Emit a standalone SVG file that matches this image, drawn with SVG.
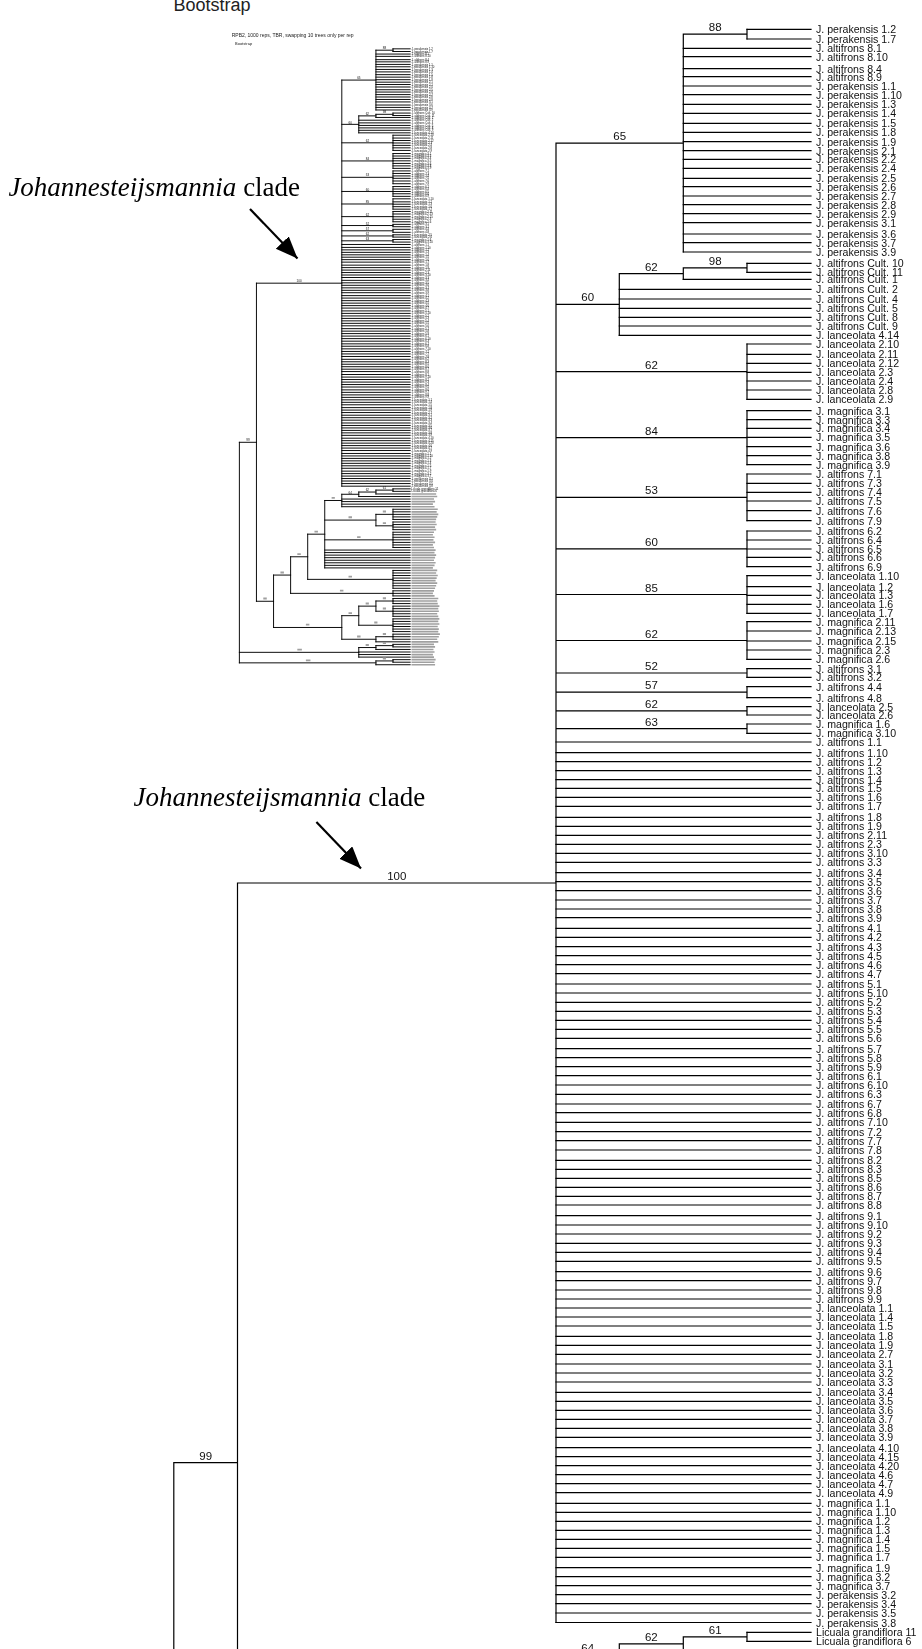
<svg xmlns="http://www.w3.org/2000/svg" width="922" height="1649" viewBox="0 0 922 1649">
<style>
.br{fill:none;stroke:#000;stroke-linecap:square}
.lf{font-family:"Liberation Sans",Arial,sans-serif;font-size:10.6px;fill:#111}
.bs{font-family:"Liberation Sans",Arial,sans-serif;font-size:11.5px;fill:#111;text-anchor:middle}
.ph{fill:none;stroke:#a0a0a0}
.cl{font-family:"Liberation Serif","Times New Roman",serif;font-size:27px;fill:#000}
.arr{stroke:#000;stroke-width:2.2;fill:none}
.hd{font-family:"Liberation Sans",Arial,sans-serif;fill:#222}
</style>
<defs>
<filter id="gray" x="-5%" y="-5%" width="110%" height="110%"><feColorMatrix type="saturate" values="0"/></filter>
<marker id="ah" markerUnits="userSpaceOnUse" markerWidth="24" markerHeight="20" refX="22" refY="9" orient="auto">
<path d="M0,0 L22,9 L0,18 z" fill="#000"/>
</marker>
<g id="treeMain">
<g id="connectors">
<path class="br" d="M747 29.3H811M747 39H811M747 263.3H811M747 272.3H811M747 344H811M747 354.3H811M747 363.3H811M747 372.3H811M747 381H811M747 390H811M747 399.3H811M747 410.7H811M747 419.7H811M747 428.3H811M747 437.3H811M747 446.7H811M747 455.7H811M747 464.7H811M747 474H811M747 483.3H811M747 492.3H811M747 501H811M747 510.7H811M747 520.7H811M747 531H811M747 540H811M747 549H811M747 557.3H811M747 566.7H811M747 575.7H811M747 586.7H811M747 595.3H811M747 604.3H811M747 613.3H811M747 621.7H811M747 631H811M747 641H811M747 650H811M747 659.3H811M747 668.7H811M747 677.3H811M747 686.7H811M747 697.7H811M747 706.7H811M747 715H811M747 724H811M747 733.3H811M747 1632.3H811M747 1641.3H811"/>
<path class="br" d="M683.3 48.3H811M683.3 56.7H811M683.3 68.7H811M683.3 76.7H811M683.3 86H811M683.3 94.7H811M683.3 104.3H811M683.3 113.3H811M683.3 123.3H811M683.3 132.3H811M683.3 141.7H811M683.3 150.7H811M683.3 159.3H811M683.3 168.3H811M683.3 178.3H811M683.3 186.7H811M683.3 196H811M683.3 204.7H811M683.3 213.7H811M683.3 222.7H811M683.3 234H811M683.3 242.7H811M683.3 252H811M683.3 279.3H811M683.3 1650.9H811"/>
<path class="br" d="M619.3 289.3H811M619.3 299H811M619.3 308.3H811M619.3 317.3H811M619.3 326H811M619.3 335.3H811M619.3 1660.2H811"/>
<path class="br" d="M556 742H811M556 752.7H811M556 761.7H811M556 770.7H811M556 779.7H811M556 788.3H811M556 797.3H811M556 806.3H811M556 817.3H811M556 826.3H811M556 835.3H811M556 844.3H811M556 853.3H811M556 862.3H811M556 872.7H811M556 881.7H811M556 890.7H811M556 900H811M556 909H811M556 917.7H811M556 928.3H811M556 937.3H811M556 946.7H811M556 955.7H811M556 964.7H811M556 973.7H811M556 984H811M556 993H811M556 1002.3H811M556 1011.3H811M556 1020.3H811M556 1029.3H811M556 1038.3H811M556 1048.7H811M556 1057.7H811M556 1066.7H811M556 1075.7H811M556 1085H811M556 1094.3H811M556 1104H811M556 1112.7H811M556 1122.3H811M556 1131.7H811M556 1140.7H811M556 1150H811M556 1160.3H811M556 1169.3H811M556 1178.3H811M556 1187.3H811M556 1196.3H811M556 1205H811M556 1215.7H811M556 1225H811M556 1234H811M556 1243.3H811M556 1252.3H811M556 1261.3H811M556 1271.7H811M556 1280.7H811M556 1290H811M556 1299H811M556 1308H811M556 1317H811M556 1326H811M556 1336.3H811M556 1345.3H811M556 1354.3H811M556 1364H811M556 1373H811M556 1382H811M556 1392.3H811M556 1401.3H811M556 1410.3H811M556 1419.3H811M556 1428.3H811M556 1437.3H811M556 1447.7H811M556 1456.7H811M556 1465.7H811M556 1474.7H811M556 1483.7H811M556 1492.7H811M556 1503.3H811M556 1512.3H811M556 1521.3H811M556 1530.3H811M556 1539.3H811M556 1548.3H811M556 1557.3H811M556 1567.7H811M556 1576.7H811M556 1585.7H811M556 1594.7H811M556 1603.7H811M556 1613H811M556 1622.5H811"/>
<path class="br" d="M747 29.3V39M683.3 34.2H747M683.3 34.2V252M556 143.1H683.3M747 263.3V272.3M683.3 267.8H747M683.3 267.8V279.3M619.3 273.55H683.3M619.3 273.55V335.3M556 304.4H619.3M747 344V399.3M556 371.65H747M747 410.7V464.7M556 437.7H747M747 474V520.7M556 497.35H747M747 531V566.7M556 548.85H747M747 575.7V613.3M556 594.5H747M747 621.7V659.3M556 640.5H747M747 668.7V677.3M556 673H747M747 686.7V697.7M556 692.2H747M747 706.7V715M556 710.85H747M747 724V733.3M556 728.65H747M556 143.1V1622.5M237.5 883H556M237.5 883V2041.8M173.8 1462.7H237.5M173.8 1462.7V2266.1M747 1632.3V1641.3M683.3 1636.8H747M683.3 1636.8V1650.9M619.3 1643.85V1660.2M619.3 1643.85H683.3M556 1652H619.3"/>
</g>
<g id="support">
<text class="bs" x="715.2" y="31.2">88</text>
<text class="bs" x="619.7" y="140.1">65</text>
<text class="bs" x="715.2" y="264.8">98</text>
<text class="bs" x="651.3" y="270.5">62</text>
<text class="bs" x="587.7" y="301.4">60</text>
<text class="bs" x="651.5" y="368.6">62</text>
<text class="bs" x="651.5" y="434.7">84</text>
<text class="bs" x="651.5" y="494.3">53</text>
<text class="bs" x="651.5" y="545.8">60</text>
<text class="bs" x="651.5" y="591.5">85</text>
<text class="bs" x="651.5" y="637.5">62</text>
<text class="bs" x="651.5" y="670">52</text>
<text class="bs" x="651.5" y="689.2">57</text>
<text class="bs" x="651.5" y="707.8">62</text>
<text class="bs" x="651.5" y="725.6">63</text>
<text class="bs" x="396.8" y="880">100</text>
<text class="bs" x="205.7" y="1459.7">99</text>
<text class="bs" x="715.2" y="1633.8">61</text>
<text class="bs" x="651.3" y="1640.8">62</text>
<text class="bs" x="587.7" y="1651.8">64</text>
</g>
<g id="taxa" class="lf" transform="translate(816 4)">
<g id="t1"><text y="29.3">J. perakensis 1.2</text></g>
<g id="t2"><text y="39">J. perakensis 1.7</text></g>
<g id="t3"><text y="48.3">J. altifrons 8.1</text></g>
<g id="t4"><text y="56.7">J. altifrons 8.10</text></g>
<g id="t5"><text y="68.7">J. altifrons 8.4</text></g>
<g id="t6"><text y="76.7">J. altifrons 8.9</text></g>
<g id="t7"><text y="86">J. perakensis 1.1</text></g>
<g id="t8"><text y="94.7">J. perakensis 1.10</text></g>
<g id="t9"><text y="104.3">J. perakensis 1.3</text></g>
<g id="t10"><text y="113.3">J. perakensis 1.4</text></g>
<g id="t11"><text y="123.3">J. perakensis 1.5</text></g>
<g id="t12"><text y="132.3">J. perakensis 1.8</text></g>
<g id="t13"><text y="141.7">J. perakensis 1.9</text></g>
<g id="t14"><text y="150.7">J. perakensis 2.1</text></g>
<g id="t15"><text y="159.3">J. perakensis 2.2</text></g>
<g id="t16"><text y="168.3">J. perakensis 2.4</text></g>
<g id="t17"><text y="178.3">J. perakensis 2.5</text></g>
<g id="t18"><text y="186.7">J. perakensis 2.6</text></g>
<g id="t19"><text y="196">J. perakensis 2.7</text></g>
<g id="t20"><text y="204.7">J. perakensis 2.8</text></g>
<g id="t21"><text y="213.7">J. perakensis 2.9</text></g>
<g id="t22"><text y="222.7">J. perakensis 3.1</text></g>
<g id="t23"><text y="234">J. perakensis 3.6</text></g>
<g id="t24"><text y="242.7">J. perakensis 3.7</text></g>
<g id="t25"><text y="252">J. perakensis 3.9</text></g>
<g id="t26"><text y="263.3">J. altifrons Cult. 10</text></g>
<g id="t27"><text y="272.3">J. altifrons Cult. 11</text></g>
<g id="t28"><text y="279.3">J. altifrons Cult. 1</text></g>
<g id="t29"><text y="289.3">J. altifrons Cult. 2</text></g>
<g id="t30"><text y="299">J. altifrons Cult. 4</text></g>
<g id="t31"><text y="308.3">J. altifrons Cult. 5</text></g>
<g id="t32"><text y="317.3">J. altifrons Cult. 8</text></g>
<g id="t33"><text y="326">J. altifrons Cult. 9</text></g>
<g id="t34"><text y="335.3">J. lanceolata 4.14</text></g>
<g id="t35"><text y="344">J. lanceolata 2.10</text></g>
<g id="t36"><text y="354.3">J. lanceolata 2.11</text></g>
<g id="t37"><text y="363.3">J. lanceolata 2.12</text></g>
<g id="t38"><text y="372.3">J. lanceolata 2.3</text></g>
<g id="t39"><text y="381">J. lanceolata 2.4</text></g>
<g id="t40"><text y="390">J. lanceolata 2.8</text></g>
<g id="t41"><text y="399.3">J. lanceolata 2.9</text></g>
<g id="t42"><text y="410.7">J. magnifica 3.1</text></g>
<g id="t43"><text y="419.7">J. magnifica 3.3</text></g>
<g id="t44"><text y="428.3">J. magnifica 3.4</text></g>
<g id="t45"><text y="437.3">J. magnifica 3.5</text></g>
<g id="t46"><text y="446.7">J. magnifica 3.6</text></g>
<g id="t47"><text y="455.7">J. magnifica 3.8</text></g>
<g id="t48"><text y="464.7">J. magnifica 3.9</text></g>
<g id="t49"><text y="474">J. altifrons 7.1</text></g>
<g id="t50"><text y="483.3">J. altifrons 7.3</text></g>
<g id="t51"><text y="492.3">J. altifrons 7.4</text></g>
<g id="t52"><text y="501">J. altifrons 7.5</text></g>
<g id="t53"><text y="510.7">J. altifrons 7.6</text></g>
<g id="t54"><text y="520.7">J. altifrons 7.9</text></g>
<g id="t55"><text y="531">J. altifrons 6.2</text></g>
<g id="t56"><text y="540">J. altifrons 6.4</text></g>
<g id="t57"><text y="549">J. altifrons 6.5</text></g>
<g id="t58"><text y="557.3">J. altifrons 6.6</text></g>
<g id="t59"><text y="566.7">J. altifrons 6.9</text></g>
<g id="t60"><text y="575.7">J. lanceolata 1.10</text></g>
<g id="t61"><text y="586.7">J. lanceolata 1.2</text></g>
<g id="t62"><text y="595.3">J. lanceolata 1.3</text></g>
<g id="t63"><text y="604.3">J. lanceolata 1.6</text></g>
<g id="t64"><text y="613.3">J. lanceolata 1.7</text></g>
<g id="t65"><text y="621.7">J. magnifica 2.11</text></g>
<g id="t66"><text y="631">J. magnifica 2.13</text></g>
<g id="t67"><text y="641">J. magnifica 2.15</text></g>
<g id="t68"><text y="650">J. magnifica 2.3</text></g>
<g id="t69"><text y="659.3">J. magnifica 2.6</text></g>
<g id="t70"><text y="668.7">J. altifrons 3.1</text></g>
<g id="t71"><text y="677.3">J. altifrons 3.2</text></g>
<g id="t72"><text y="686.7">J. altifrons 4.4</text></g>
<g id="t73"><text y="697.7">J. altifrons 4.8</text></g>
<g id="t74"><text y="706.7">J. lanceolata 2.5</text></g>
<g id="t75"><text y="715">J. lanceolata 2.6</text></g>
<g id="t76"><text y="724">J. magnifica 1.6</text></g>
<g id="t77"><text y="733.3">J. magnifica 3.10</text></g>
<g id="t78"><text y="742">J. altifrons 1.1</text></g>
<g id="t79"><text y="752.7">J. altifrons 1.10</text></g>
<g id="t80"><text y="761.7">J. altifrons 1.2</text></g>
<g id="t81"><text y="770.7">J. altifrons 1.3</text></g>
<g id="t82"><text y="779.7">J. altifrons 1.4</text></g>
<g id="t83"><text y="788.3">J. altifrons 1.5</text></g>
<g id="t84"><text y="797.3">J. altifrons 1.6</text></g>
<g id="t85"><text y="806.3">J. altifrons 1.7</text></g>
<g id="t86"><text y="817.3">J. altifrons 1.8</text></g>
<g id="t87"><text y="826.3">J. altifrons 1.9</text></g>
<g id="t88"><text y="835.3">J. altifrons 2.11</text></g>
<g id="t89"><text y="844.3">J. altifrons 2.3</text></g>
<g id="t90"><text y="853.3">J. altifrons 3.10</text></g>
<g id="t91"><text y="862.3">J. altifrons 3.3</text></g>
<g id="t92"><text y="872.7">J. altifrons 3.4</text></g>
<g id="t93"><text y="881.7">J. altifrons 3.5</text></g>
<g id="t94"><text y="890.7">J. altifrons 3.6</text></g>
<g id="t95"><text y="900">J. altifrons 3.7</text></g>
<g id="t96"><text y="909">J. altifrons 3.8</text></g>
<g id="t97"><text y="917.7">J. altifrons 3.9</text></g>
<g id="t98"><text y="928.3">J. altifrons 4.1</text></g>
<g id="t99"><text y="937.3">J. altifrons 4.2</text></g>
<g id="t100"><text y="946.7">J. altifrons 4.3</text></g>
<g id="t101"><text y="955.7">J. altifrons 4.5</text></g>
<g id="t102"><text y="964.7">J. altifrons 4.6</text></g>
<g id="t103"><text y="973.7">J. altifrons 4.7</text></g>
<g id="t104"><text y="984">J. altifrons 5.1</text></g>
<g id="t105"><text y="993">J. altifrons 5.10</text></g>
<g id="t106"><text y="1002.3">J. altifrons 5.2</text></g>
<g id="t107"><text y="1011.3">J. altifrons 5.3</text></g>
<g id="t108"><text y="1020.3">J. altifrons 5.4</text></g>
<g id="t109"><text y="1029.3">J. altifrons 5.5</text></g>
<g id="t110"><text y="1038.3">J. altifrons 5.6</text></g>
<g id="t111"><text y="1048.7">J. altifrons 5.7</text></g>
<g id="t112"><text y="1057.7">J. altifrons 5.8</text></g>
<g id="t113"><text y="1066.7">J. altifrons 5.9</text></g>
<g id="t114"><text y="1075.7">J. altifrons 6.1</text></g>
<g id="t115"><text y="1085">J. altifrons 6.10</text></g>
<g id="t116"><text y="1094.3">J. altifrons 6.3</text></g>
<g id="t117"><text y="1104">J. altifrons 6.7</text></g>
<g id="t118"><text y="1112.7">J. altifrons 6.8</text></g>
<g id="t119"><text y="1122.3">J. altifrons 7.10</text></g>
<g id="t120"><text y="1131.7">J. altifrons 7.2</text></g>
<g id="t121"><text y="1140.7">J. altifrons 7.7</text></g>
<g id="t122"><text y="1150">J. altifrons 7.8</text></g>
<g id="t123"><text y="1160.3">J. altifrons 8.2</text></g>
<g id="t124"><text y="1169.3">J. altifrons 8.3</text></g>
<g id="t125"><text y="1178.3">J. altifrons 8.5</text></g>
<g id="t126"><text y="1187.3">J. altifrons 8.6</text></g>
<g id="t127"><text y="1196.3">J. altifrons 8.7</text></g>
<g id="t128"><text y="1205">J. altifrons 8.8</text></g>
<g id="t129"><text y="1215.7">J. altifrons 9.1</text></g>
<g id="t130"><text y="1225">J. altifrons 9.10</text></g>
<g id="t131"><text y="1234">J. altifrons 9.2</text></g>
<g id="t132"><text y="1243.3">J. altifrons 9.3</text></g>
<g id="t133"><text y="1252.3">J. altifrons 9.4</text></g>
<g id="t134"><text y="1261.3">J. altifrons 9.5</text></g>
<g id="t135"><text y="1271.7">J. altifrons 9.6</text></g>
<g id="t136"><text y="1280.7">J. altifrons 9.7</text></g>
<g id="t137"><text y="1290">J. altifrons 9.8</text></g>
<g id="t138"><text y="1299">J. altifrons 9.9</text></g>
<g id="t139"><text y="1308">J. lanceolata 1.1</text></g>
<g id="t140"><text y="1317">J. lanceolata 1.4</text></g>
<g id="t141"><text y="1326">J. lanceolata 1.5</text></g>
<g id="t142"><text y="1336.3">J. lanceolata 1.8</text></g>
<g id="t143"><text y="1345.3">J. lanceolata 1.9</text></g>
<g id="t144"><text y="1354.3">J. lanceolata 2.7</text></g>
<g id="t145"><text y="1364">J. lanceolata 3.1</text></g>
<g id="t146"><text y="1373">J. lanceolata 3.2</text></g>
<g id="t147"><text y="1382">J. lanceolata 3.3</text></g>
<g id="t148"><text y="1392.3">J. lanceolata 3.4</text></g>
<g id="t149"><text y="1401.3">J. lanceolata 3.5</text></g>
<g id="t150"><text y="1410.3">J. lanceolata 3.6</text></g>
<g id="t151"><text y="1419.3">J. lanceolata 3.7</text></g>
<g id="t152"><text y="1428.3">J. lanceolata 3.8</text></g>
<g id="t153"><text y="1437.3">J. lanceolata 3.9</text></g>
<g id="t154"><text y="1447.7">J. lanceolata 4.10</text></g>
<g id="t155"><text y="1456.7">J. lanceolata 4.15</text></g>
<g id="t156"><text y="1465.7">J. lanceolata 4.20</text></g>
<g id="t157"><text y="1474.7">J. lanceolata 4.6</text></g>
<g id="t158"><text y="1483.7">J. lanceolata 4.7</text></g>
<g id="t159"><text y="1492.7">J. lanceolata 4.9</text></g>
<g id="t160"><text y="1503.3">J. magnifica 1.1</text></g>
<g id="t161"><text y="1512.3">J. magnifica 1.10</text></g>
<g id="t162"><text y="1521.3">J. magnifica 1.2</text></g>
<g id="t163"><text y="1530.3">J. magnifica 1.3</text></g>
<g id="t164"><text y="1539.3">J. magnifica 1.4</text></g>
<g id="t165"><text y="1548.3">J. magnifica 1.5</text></g>
<g id="t166"><text y="1557.3">J. magnifica 1.7</text></g>
<g id="t167"><text y="1567.7">J. magnifica 1.9</text></g>
<g id="t168"><text y="1576.7">J. magnifica 3.2</text></g>
<g id="t169"><text y="1585.7">J. magnifica 3.7</text></g>
<g id="t170"><text y="1594.7">J. perakensis 3.2</text></g>
<g id="t171"><text y="1603.7">J. perakensis 3.4</text></g>
<g id="t172"><text y="1613">J. perakensis 3.5</text></g>
<g id="t173"><text y="1622.5">J. perakensis 3.8</text></g>
<g id="t174"><text y="1632.3">Licuala grandiflora 11</text></g>
<g id="t175"><text y="1641.3">Licuala grandiflora 6</text></g>
</g>
</g>
<g id="treeHidden">
<path class="br" d="M556 1652V1697.3M492.3 1674.65H556M556 1669.4H811M556 1678.7H811M556 1688H811M556 1697.3H811M747 1706.6V1743.7M683.3 1725.15H747M747 1706.6H811M747 1715.9H811M747 1725.2H811M747 1734.4H811M747 1743.7H811M747 1753V1780.9M683.3 1766.95H747M747 1753H811M747 1762.3H811M747 1771.6H811M747 1780.9H811M683.3 1725.15V1766.95M492.3 1746.05H683.3M747 1790.2V1845.9M492.3 1818.05H747M747 1790.2H811M747 1799.4H811M747 1808.7H811M747 1818H811M747 1827.3H811M747 1836.6H811M747 1845.9H811M492.3 1855.2H811M492.3 1864.5H811M492.3 1873.7H811M492.3 1883H811M492.3 1892.3H811M492.3 1901.6H811M492.3 1910.9H811M492.3 1920.2H811M492.3 1674.65V1920.2M428.7 1797.4H492.3M747 1929.5V1994.5M428.7 1962H747M747 1929.5H811M747 1938.7H811M747 1948H811M747 1957.3H811M747 1966.6H811M747 1975.9H811M747 1985.2H811M747 1994.5H811M428.7 1797.4V1962M365 1879.7H428.7M747 2003.7V2022.3M365 2013H747M747 2003.7H811M747 2013H811M747 2022.3H811M365 1879.7V2013M301.3 1946.35H365M747 2031.6V2050.2M683.3 2040.9H747M747 2031.6H811M747 2040.9H811M747 2050.2H811M747 2059.5V2096.6M683.3 2078.05H747M747 2059.5H811M747 2068.7H811M747 2078H811M747 2087.3H811M747 2096.6H811M683.3 2040.9V2078.05M619.3 2059.5H683.3M747 2105.9V2152.3M619.3 2129.1H747M747 2105.9H811M747 2115.2H811M747 2124.5H811M747 2133.7H811M747 2143H811M747 2152.3H811M619.3 2059.5V2129.1M556 2094.3H619.3M747 2161.6V2180.2M683.3 2170.9H747M747 2161.6H811M747 2170.9H811M747 2180.2H811M683.3 2189.5H811M683.3 2170.9V2189.5M556 2180.2H683.3M556 2094.3V2180.2M301.3 2137.25H556M301.3 1946.35V2137.25M237.5 2041.8H301.3M747 2198.8V2208M683.3 2203.4H747M747 2198.8H811M747 2208H811M683.3 2217.3H811M683.3 2203.4V2217.3M619.3 2210.35H683.3M619.3 2226.6H811M619.3 2235.9H811M619.3 2245.2H811M619.3 2210.35V2245.2M173.8 2227.8H619.3M747 2254.5V2263.8M683.3 2259.15H747M747 2254.5H811M747 2263.8H811M683.3 2273H811M683.3 2259.15V2273M173.8 2266.1H683.3"/>
<path class="ph" stroke-width="6" d="M816 1650.9h92M816 1660.2h96M816 1669.4h84M816 1678.7h88M816 1688h80M816 1697.3h86M816 1706.6h98M816 1715.9h94M816 1725.2h100M816 1734.4h96M816 1743.7h92M816 1753h90M816 1762.3h94M816 1771.6h88M816 1780.9h92M816 1790.2h84M816 1799.4h80M816 1808.7h86M816 1818h82M816 1827.3h88M816 1836.6h80M816 1845.9h84M816 1855.2h90M816 1864.5h86M816 1873.7h92M816 1883h88M816 1892.3h84M816 1901.6h90M816 1910.9h86M816 1920.2h80M816 1929.5h96M816 1938.7h92M816 1948h98M816 1957.3h94M816 1966.6h90M816 1975.9h96M816 1985.2h92M816 1994.5h88M816 2003.7h84M816 2013h80M816 2022.3h86M816 2031.6h100M816 2040.9h96M816 2050.2h98M816 2059.5h104M816 2068.7h100M816 2078h102M816 2087.3h96M816 2096.6h100M816 2105.9h104M816 2115.2h100M816 2124.5h104M816 2133.7h98M816 2143h102M816 2152.3h100M816 2161.6h106M816 2170.9h102M816 2180.2h96M816 2189.5h100M816 2198.8h84M816 2208h88M816 2217.3h82M816 2226.6h86M816 2235.9h80M816 2245.2h84M816 2254.5h90M816 2263.8h86M816 2273h88"/>
<path class="ph" stroke-width="7" d="M518 1665h12M581 1736h13M709 1715h12M709 1757h12M613 1808h13M454 1788h13M581 1952h13M390 1870h13M549 2003h13M327 1937h13M263 2032h13M709 2031h12M709 2068h12M645 2050h12M677 2119h12M581 2085h13M709 2161h12M613 2170h13M422 2127h13M709 2194h12M645 2201h12M390 2218h17M709 2250h12M422 2257h17"/>
</g>
</defs>
<use id="main-tree" href="#treeMain" stroke-width="1.2" filter="url(#gray)"/>
<text id="title-bootstrap" class="hd" x="173.5" y="10.5" font-size="18">Bootstrap</text>
<g id="inset" filter="url(#gray)">
<text class="hd" x="231.7" y="36.5" font-size="5">RPB2, 1000 reps, TBR, swapping 10 trees only per rep</text>
<text class="hd" x="235" y="45" font-size="4">Bootstrap</text>
<use href="#treeMain" transform="translate(192.8 40.8) scale(0.268 0.2745)" stroke-width="3.5"/>
<use href="#treeHidden" transform="translate(192.8 40.8) scale(0.268 0.2745)" stroke-width="3.5"/>
</g>
<g id="clade-label-upper">
<text class="cl" x="8.4" y="196"><tspan font-style="italic">Johannesteijsmannia</tspan> clade</text>
<line class="arr" x1="250" y1="209" x2="297.5" y2="258.5" marker-end="url(#ah)"/>
</g>
<g id="clade-label-lower">
<text class="cl" x="133.5" y="806"><tspan font-style="italic">Johannesteijsmannia</tspan> clade</text>
<line class="arr" x1="316.4" y1="822" x2="361" y2="868.5" marker-end="url(#ah)"/>
</g>
</svg>
